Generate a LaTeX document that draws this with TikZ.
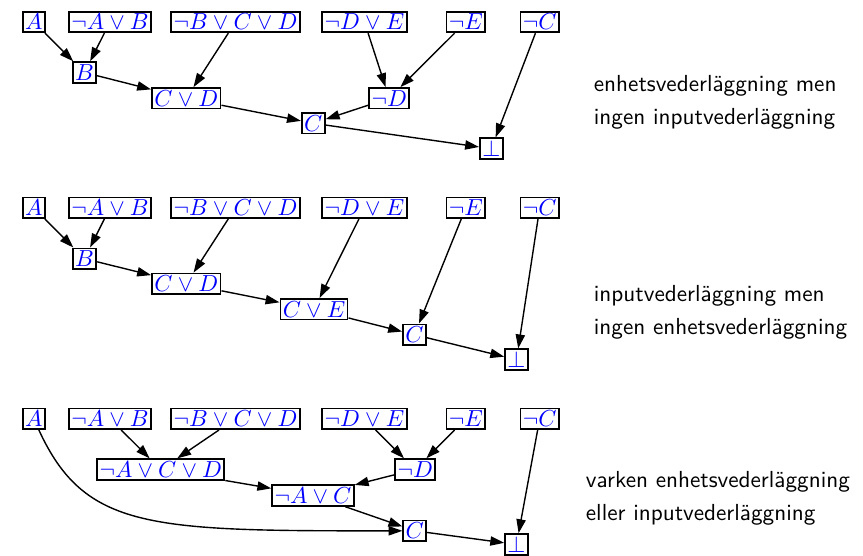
\documentclass[tikz,border=0pt]{standalone}
\usetikzlibrary{arrows.meta}
\begin{document}
\begin{tikzpicture}[x=0.431pt, y=-0.431pt, >={Triangle[length=6pt,width=4pt]}]
\tikzstyle{every node}=[shape=rectangle, draw, line width=0.8pt, inner sep=1pt, text=blue]
\tikzstyle{arr}=[->, line width=0.6pt]
\tikzstyle{note}=[draw=none, text=black, font=\sffamily, align=left, anchor=north west, inner sep=0pt]
\useasboundingbox (0,0) rectangle (863,555);
% unit resolution, no input resolution
\node (A1) at (33.7, 22) {$A$};
\node (NAB1) at (110, 22) {$\neg A\vee B$};
\node (NBCD1) at (235.5, 22) {$\neg B\vee C\vee D$};
\node (NDE1) at (364.5, 22) {$\neg D\vee E$};
\node (NE1) at (465.8, 22) {$\neg E$};
\node (NC1) at (539.7, 22) {$\neg C$};
\node (B1) at (84.5, 72.5) {$B$};
\node (CD1) at (186.3, 98.3) {$C\vee D$};
\node (ND1) at (389.2, 98.3) {$\neg D$};
\node (C1) at (313.3, 123.3) {$C$};
\node (BOT1) at (491.3, 148.7) {$\bot$};
\node[note] (T1) at (593, 74) {enhetsvederläggning men\\[2.5pt]ingen inputvederläggning};
\draw [arr] (A1) to (B1);
\draw [arr] (NAB1) to (B1);
\draw [arr] (B1) to (CD1);
\draw [arr] (NBCD1) to (CD1);
\draw [arr] (NDE1) to (ND1);
\draw [arr] (NE1) to (ND1);
\draw [arr] (CD1) to (C1);
\draw [arr] (ND1) to (C1);
\draw [arr] (C1) to (BOT1);
\draw [arr] (NC1) to (BOT1);
% input resolution, no unit resolution
\node (A2) at (33.7, 207.8) {$A$};
\node (NAB2) at (110, 207.8) {$\neg A\vee B$};
\node (NBCD2) at (235.5, 207.8) {$\neg B\vee C\vee D$};
\node (NDE2) at (364.5, 207.8) {$\neg D\vee E$};
\node (NE2) at (465.8, 207.8) {$\neg E$};
\node (NC2) at (539.7, 207.8) {$\neg C$};
\node (B2) at (84.5, 258.7) {$B$};
\node (CD2) at (186.3, 283.8) {$C\vee D$};
\node (CE2) at (314, 309.2) {$C\vee E$};
\node (C2) at (414.5, 334.7) {$C$};
\node (BOT2) at (516.5, 359.7) {$\bot$};
\node[note] (T2) at (593, 284) {inputvederläggning men\\[2.5pt]ingen enhetsvederläggning};
\draw [arr] (A2) to (B2);
\draw [arr] (NAB2) to (B2);
\draw [arr] (B2) to (CD2);
\draw [arr] (NBCD2) to (CD2);
\draw [arr] (CD2) to (CE2);
\draw [arr] (NDE2) to (CE2);
\draw [arr] (CE2) to (C2);
\draw [arr] (NE2) to (C2);
\draw [arr] (C2) to (BOT2);
\draw [arr] (NC2) to (BOT2);
% neither
\node (A3) at (33.7, 418.8) {$A$};
\node (NAB3) at (110, 418.8) {$\neg A\vee B$};
\node (NBCD3) at (235.5, 418.8) {$\neg B\vee C\vee D$};
\node (NDE3) at (364.5, 418.8) {$\neg D\vee E$};
\node (NE3) at (465.8, 418.8) {$\neg E$};
\node (NC3) at (539.7, 418.8) {$\neg C$};
\node (ACD3) at (160.8, 469.5) {$\neg A\vee C\vee D$};
\node (ND3) at (415.2, 469.5) {$\neg D$};
\node (AC3) at (313, 495.5) {$\neg A\vee C$};
\node (C3) at (414.8, 530.8) {$C$};
\node (BOT3) at (516.5, 544.5) {$\bot$};
\node[note] (T3) at (585, 470) {varken enhetsvederläggning\\[2.5pt]eller inputvederläggning};
\draw [arr] (NAB3) to (ACD3);
\draw [arr] (NBCD3) to (ACD3);
\draw [arr] (NDE3) to (ND3);
\draw [arr] (NE3) to (ND3);
\draw [arr] (ACD3) to (AC3);
\draw [arr] (ND3) to (AC3);
\draw [arr] (AC3) to (C3);
\draw [arr] (A3) .. controls (85, 530) and (150, 531) .. (C3);
\draw [arr] (C3) to (BOT3);
\draw [arr] (NC3) to (BOT3);
\end{tikzpicture}
\end{document}
